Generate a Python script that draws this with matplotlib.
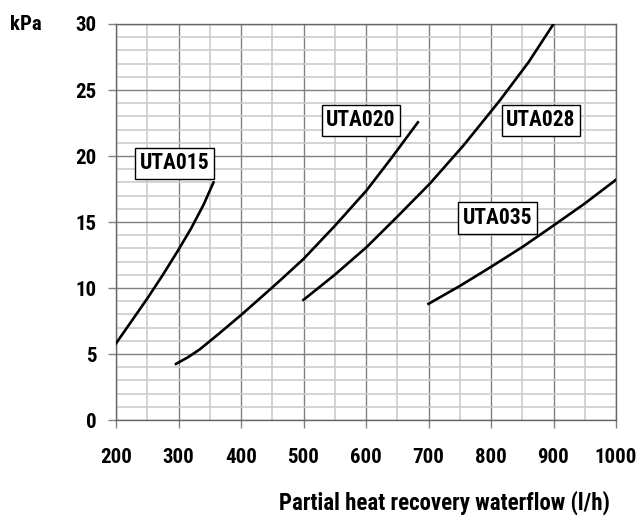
import matplotlib
matplotlib.use("Agg")
import matplotlib.pyplot as plt
from matplotlib.ticker import MultipleLocator

plt.rcParams['font.family'] = ['DejaVu Sans Condensed', 'Liberation Sans Narrow',
                               'Roboto Condensed', 'DejaVu Sans']
plt.rcParams['font.weight'] = 'bold'

# curves (flow l/h, pressure drop kPa)
uta015_x = [200, 225, 250, 275, 300, 320, 340, 356]
uta015_y = [5.8, 7.5, 9.2, 11.0, 12.9, 14.5, 16.3, 18.0]

uta020_x = [296, 315, 334, 365, 400, 430, 462, 500, 550, 601, 640, 683]
uta020_y = [4.25, 4.75, 5.35, 6.55, 7.95, 9.2, 10.55, 12.2, 14.7, 17.4, 19.8, 22.55]

uta028_x = [500, 550, 601, 650, 702, 756, 814, 860, 900]
uta028_y = [9.1, 11.0, 13.1, 15.4, 17.9, 20.8, 24.2, 27.1, 30.0]

uta035_x = [700, 750, 800, 850, 899, 950, 1000]
uta035_y = [8.8, 10.15, 11.6, 13.1, 14.7, 16.4, 18.2]

names = ["UTA015", "UTA020", "UTA028", "UTA035"]
label_x = [294, 592, 880, 811]
label_y = [19.45, 22.7, 22.7, 15.3]

xticks = [200, 300, 400, 500, 600, 700, 800, 900, 1000]
yticks = [0, 5, 10, 15, 20, 25, 30]

fig = plt.figure(figsize=(6.4, 5.25), dpi=100)
ax = fig.add_axes([116 / 640, 105 / 525, 500 / 640, 396 / 525])

for xs, ys in [(uta015_x, uta015_y), (uta020_x, uta020_y),
               (uta028_x, uta028_y), (uta035_x, uta035_y)]:
    ax.plot(xs, ys, color='black', lw=1.9, solid_joinstyle='round', zorder=3)

for name, lx, ly in zip(names, label_x, label_y):
    ax.text(lx, ly, name, ha='center', va='center', fontsize=15.5, fontweight='bold',
            zorder=4, bbox=dict(boxstyle='square,pad=0.22', fc='white', ec='black', lw=1.0))

ax.set_xlim(200, 1000)
ax.set_ylim(0, 30)
ax.set_xticks(xticks)
ax.set_yticks(yticks)
ax.xaxis.set_minor_locator(MultipleLocator(50))
ax.yaxis.set_minor_locator(MultipleLocator(1))
ax.grid(which='minor', color='#cccccc', lw=1.2, zorder=0)
ax.grid(which='major', color='#808080', lw=1.0, zorder=1)
ax.set_axisbelow(True)

ax.tick_params(which='major', direction='out', length=6, color='#808080', width=1.0,
               labelsize=15)
ax.tick_params(axis='x', which='major', pad=14)
ax.tick_params(axis='y', which='major', pad=8)
ax.tick_params(which='minor', length=0)
for s in ax.spines.values():
    s.set_color('#666666')
    s.set_linewidth(1.0)

fig.text(26 / 640, 1 - 25 / 525, "kPa", ha='center', va='center', fontsize=15,
         fontweight='bold')
fig.text(610 / 640, 1 - 503 / 525, "Partial heat recovery waterflow (l/h)",
         ha='right', va='center', fontsize=16.5, fontweight='bold')

fig.savefig("out.png", dpi=100)
